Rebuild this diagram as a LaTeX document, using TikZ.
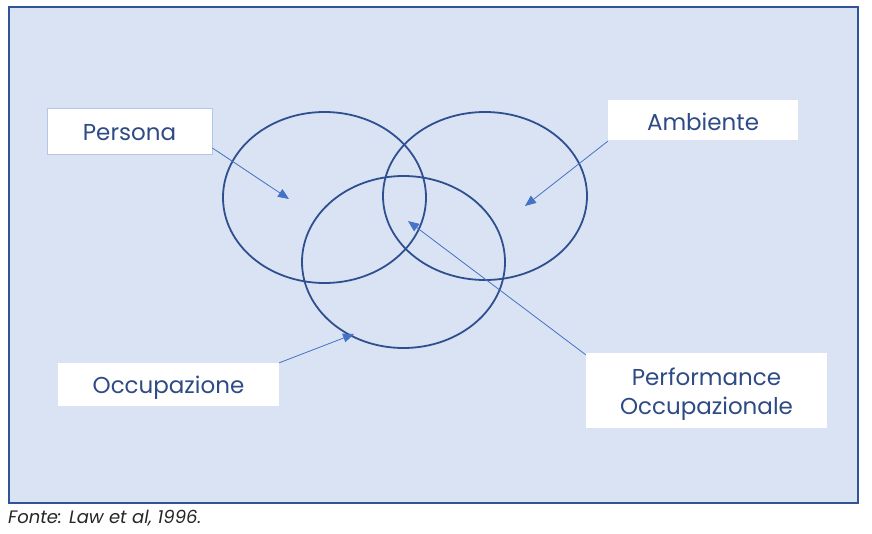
\documentclass[tikz,border=0pt]{standalone}
\usepackage{fontspec}
\setmainfont{Poppins}
\usetikzlibrary{arrows.meta}
\definecolor{framec}{HTML}{2F5597}
\definecolor{bgc}{HTML}{DAE3F3}
\definecolor{ringc}{HTML}{2F5090}
\definecolor{arrc}{HTML}{4472C4}
\definecolor{txtc}{HTML}{2F4B85}
\definecolor{boxline}{HTML}{B4C7E7}
\tikzset{
  ring/.style={draw=ringc, line width=1.8pt},
  lab/.style={fill=white, text=txtc, font=\fontsize{23}{29}\selectfont, inner sep=0pt, align=center, text height=18pt, text depth=0pt},
  pointer/.style={draw=arrc, line width=0.8pt, -{Triangle[length=11pt,width=9pt]}},
}
\begin{document}
\begin{tikzpicture}[x=1pt,y=-1pt]
\useasboundingbox (0,0) rectangle (872,533);
\fill[white] (0,0) rectangle (872,533);
\draw[draw=framec, fill=bgc, line width=2.5pt] (9,7) rectangle (858,503);
% ellipses
\draw[ring] (324.5,197.5) ellipse [x radius=101.5, y radius=85.5];
\draw[ring] (485,196) ellipse [x radius=102, y radius=84];
\draw[ring] (403.5,262) ellipse [x radius=101.5, y radius=86];
% label boxes
\node[lab, draw=boxline, line width=0.8pt, minimum width=165pt, minimum height=46pt] (persona) at (129.5,131) {Persona};
\node[lab, minimum width=190pt, minimum height=40pt, text height=21pt] (ambiente) at (703,120) {Ambiente};
\node[lab, minimum width=221pt, minimum height=43pt] (occup) at (168.5,384.5) {Occupazione};
\node[lab, minimum width=241pt, minimum height=75pt, text height=47pt] (perf) at (706.5,390.5) {Performance\\Occupazionale};
% targets
\coordinate (tpers) at (289,199);
\coordinate (tamb) at (525,206);
\coordinate (tocc) at (354,334);
\coordinate (tperf) at (408,221);
\draw[pointer] (persona.east |- 0,148) -- (tpers);
\draw[pointer] (ambiente.south west) ++(0,1) -- (tamb);
\draw[pointer] (occup.north east) -- (tocc);
\draw[pointer] (perf.north west) ++(0,2) -- (tperf);
\node[anchor=base west, inner sep=0pt, font=\fontsize{18}{20}\selectfont\itshape, text=black!85] (src) at (8,523) {Fonte: Law et al, 1996.};
\end{tikzpicture}
\end{document}
